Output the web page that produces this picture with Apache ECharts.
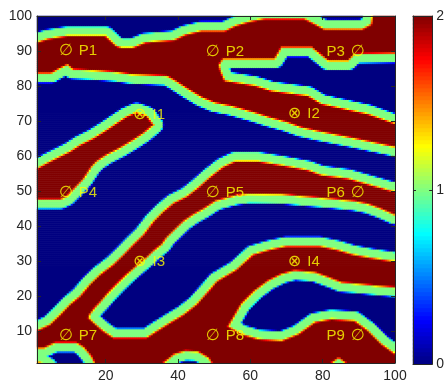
<!DOCTYPE html>
<html>
<head>
<meta charset="utf-8">
<script src="https://cdn.jsdelivr.net/npm/echarts@6.0.0/dist/echarts.min.js"></script>
<style>
html,body{margin:0;padding:0;background:#fff;}
#chart{width:447px;height:383px;}
</style>
</head>
<body>
<div id="chart"></div>
<script>
// ---------------- values ----------------
const xTickValues = [20, 40, 60, 80, 100];
const yTickValues = [10, 20, 30, 40, 50, 60, 70, 80, 90, 100];
const colorTickValues = [0, 1, 2];
const fieldMin = 0, fieldMax = 2;

// Outlines of the regions that are NOT at the top value (2), in axis units [x, y].
// Everything outside these outlines is value 2 (dark red); inside them the value
// falls to 1 (green rim) and then 0 (blue) away from the outline.
const gapTop = [[-10,110],[-10,92.5],[1,92.5],[4,93.5],[9.5,94.4],[20,94.4],[23,91.5],[24.5,91],[27.5,91],[31,92.5],[39,93.2],[42,94.7],[46.5,95.8],[53,95.8],[56,97.3],[60,98.5],[64,99.3],[75,99.3],[78,97.7],[80.5,96.3],[91,96.3],[93.5,97.7],[95.4,110]];
const gapUpperPocket = [[110,89.4],[99.7,89.4],[88.9,89.2],[87.1,87.3],[81.6,87.3],[77,91.1],[68.7,91.1],[66.8,87.8],[52.5,87.8],[51.4,86],[52,84],[53,81.6],[61.3,80.2],[65.9,78.7],[76,77.3],[79.7,75],[92.6,72.1],[99.7,69.5],[110,69.5]];
const gapMiddle = [[-10,83.7],[5,83.7],[7,84.9],[9.5,86.2],[11,84.8],[17,84.5],[23,84],[27,83.4],[37,82.9],[39.2,81.6],[42.8,79.2],[46.5,76.9],[50.2,75.3],[55,74.3],[60.8,72.6],[65,71.2],[70,69.8],[74,68.3],[79.2,67.1],[88.5,65.2],[99.5,62.8],[110,62.5],
  [110,49.9],[100,49.9],[93.5,51.8],[87.1,53.7],[79.7,54.7],[76,56.1],[68.7,57.5],[62.2,58.6],[55.8,58.6],[52.5,57],[49,54.2],[45.5,51],[42.5,48.6],[38.8,46.7],[36,44.3],[33.3,41.5],[30.5,37.7],[27.7,34.9],[25,32],[22.2,29.2],[18.5,26.3],[15.7,23.5],[13,20.2],[10.2,17.8],[7.5,14.9],[4.7,12.1],[1.9,10.7],[1,10.4],[-10,10.4],
  [-10,47.7],[1,47.7],[7.5,47.7],[9.3,48.6],[11.1,50.5],[13.9,53.5],[16.2,57.1],[17.6,58.6],[20.4,60.5],[24,62.4],[27.7,64.7],[30.5,66.6],[33.3,69],[31.4,71.6],[28.6,72.6],[25.9,71.4],[23.1,69.5],[20.4,67.6],[16.7,65.2],[13,63.3],[10.2,61.4],[6.5,59.5],[3.8,58.1],[1,56.5],[-10,56.5]];
const gapPocket = [[15.3,14],[15.7,14.9],[17.1,16.8],[18.5,18.3],[20.4,20.6],[23.1,23.5],[25.9,26.3],[28.6,28.7],[31.4,31.1],[33.3,33],[35.6,34.9],[36.9,36.8],[38.8,38.7],[41.6,41.5],[44.3,43.4],[47.1,45],[50.5,47.3],[55.8,48.8],[59.4,49.3],[68.7,49.2],[72.4,48.8],[77.9,48.3],[83.4,47.8],[88.9,47.2],[92.6,46.4],[96.3,45],[100,43.3],[110,42.5],
  [110,30],[99.5,30.1],[93.1,31.1],[88.5,32],[83.9,33.4],[79.2,34.4],[70,34.4],[65.4,33.4],[60.8,32],[56.2,27.7],[50.8,24.4],[48.9,22.1],[45.2,17.8],[41.6,14.9],[37.9,12.6],[34.2,10.2],[31.4,8.3],[22.2,8.3],[19.4,10.2],[16.7,12.6]];
const gapUnderI4 = [[54,11.5],[57.6,17.9],[61.3,21.7],[65,24.5],[68.7,26.4],[72.3,27.4],[77.9,26.9],[81.6,25.5],[85.3,24],[89.9,23.6],[94.5,23.1],[100,22.6],[110,22.5],
  [110,3.5],[100,3.7],[96.3,6.5],[92.6,10.3],[88.9,13.1],[82.5,13.6],[77.9,12.7],[73.3,9.3],[68.7,7.4],[62.2,7.9],[57.6,9.3]];
const gapBottomLeft = [[-10,1.5],[-10,5],[3,5.3],[6,6.8],[12,6.8],[14,5.5],[16,3],[17.5,0],[18,-10],[5,-10],[4,0],[2,1.2]];
const gapBottomMid = [[34,-10],[36,1],[39,3.5],[42,4.5],[45.5,4.3],[48.5,2.5],[50,0],[51,-10]];
const gapBottomRight = [[81.5,-10],[82.5,1],[84.5,2.5],[86.5,1],[87.5,-10]];
const gaps = [gapTop, gapUpperPocket, gapMiddle, gapPocket, gapUnderI4, gapBottomLeft, gapBottomMid, gapBottomRight];

// Text markers
const markerNames = ['P1','P2','P3','P4','P5','P6','P7','P8','P9','I1','I2','I3','I4'];
const markerX = [9, 49.6, 89.7, 9, 49.6, 89.7, 9, 49.6, 89.7, 29.5, 72.3, 29.5, 72.3];
const markerY = [90, 89.8, 89.8, 49.6, 49.6, 49.5, 8.7, 8.8, 8.7, 71.8, 72, 29.9, 29.8];
const markerSide = ['r','r','l','r','r','l','r','r','l','r','r','r','r'];

// jet colour map
const jet = ['#000080','#0000ff','#0080ff','#00ffff','#80ff80','#ffff00','#ff8000','#ff0000','#800000'];

// ---------------- raster of the field ----------------
const NX = 179, NY = 174;           // raster cells across the plot
const xMin = 1, xMax = 100, yMin = 1, yMax = 100;
function segDist(px, py, ax, ay, bx, by) {
  const dx = bx - ax, dy = by - ay;
  const l2 = dx * dx + dy * dy;
  let t = l2 ? ((px - ax) * dx + (py - ay) * dy) / l2 : 0;
  t = Math.max(0, Math.min(1, t));
  const qx = ax + t * dx - px, qy = ay + t * dy - py;
  return Math.sqrt(qx * qx + qy * qy);
}
function inside(px, py, poly) {
  let c = false;
  for (let i = 0, j = poly.length - 1; i < poly.length; j = i++) {
    const xi = poly[i][0], yi = poly[i][1], xj = poly[j][0], yj = poly[j][1];
    if (((yi > py) !== (yj > py)) && (px < (xj - xi) * (py - yi) / (yj - yi) + xi)) c = !c;
  }
  return c;
}
function levelAt(x, y) {
  let d = Infinity, inGap = false;
  for (const poly of gaps) {
    if (inside(x, y, poly)) inGap = true;
    for (let i = 0, j = poly.length - 1; i < poly.length; j = i++) {
      const s = segDist(x, y, poly[j][0], poly[j][1], poly[i][0], poly[i][1]);
      if (s < d) d = s;
    }
  }
  const e = inGap ? d : -d;
  if (e <= -0.35) return 2;
  if (e < 0.35) return 1.5 - e / 0.7;
  if (e < 2.4) return 1;
  if (e < 2.9) return 1 - (e - 2.4) / 0.5;
  return 0;
}
const catX = [], catY = [], cells = [];
for (let i = 0; i < NX; i++) catX.push(String(i));
for (let j = 0; j < NY; j++) catY.push(String(j));
for (let i = 0; i < NX; i++) {
  const x = xMin + (i + 0.5) * (xMax - xMin) / NX;
  for (let j = 0; j < NY; j++) {
    const y = yMin + (j + 0.5) * (yMax - yMin) / NY;
    cells.push([i, j, levelAt(x, y)]);
  }
}
// colour bar
const NB = 87;
const barCat = [], barCells = [];
for (let k = 0; k < NB; k++) { barCat.push(String(k)); barCells.push([0, k, fieldMin + (k + 0.5) * (fieldMax - fieldMin) / NB]); }

// ---------------- chart ----------------
const axisCol = '#262626';
const font = "'Liberation Sans', Arial, sans-serif";
const chart = echarts.init(document.getElementById('chart'), null, { renderer: 'canvas' });
const markerData = markerNames.map((n, k) => {
  const g = n[0] === 'P' ? '∅' : '⊗';
  const left = markerSide[k] === 'l';
  return {
    value: [markerX[k], markerY[k]],
    label: {
      formatter: left ? `{tl|${n}}{g|${g}}` : `{g|${g}}{tr|${n}}`,
      align: left ? 'right' : 'left',
      offset: left ? [7, 0] : [-7, 0]
    }
  };
});
const lbl = { color: '#ffff00', fontFamily: font, fontSize: 15 };
chart.setOption({
  animation: false,
  grid: [
    { left: 37, top: 16, width: 358, height: 348, containLabel: false },
    { left: 413, top: 16, width: 21, height: 348, containLabel: false }
  ],
  xAxis: [
    { type: 'category', gridIndex: 0, data: catX, show: false },
    { type: 'value', gridIndex: 0, position: 'bottom', min: xMin, max: xMax, z: 10,
      axisLine: { show: true, onZero: false, lineStyle: { color: axisCol, width: 1 } },
      axisTick: { show: true, inside: true, length: 4, customValues: xTickValues, lineStyle: { color: axisCol } },
      axisLabel: { show: true, customValues: xTickValues, color: axisCol, fontSize: 14, fontFamily: font, margin: 6 },
      splitLine: { show: false } },
    { type: 'value', gridIndex: 0, position: 'top', min: xMin, max: xMax, z: 10,
      axisLine: { show: true, onZero: false, lineStyle: { color: axisCol, width: 1 } },
      axisTick: { show: true, inside: true, length: 4, customValues: xTickValues, lineStyle: { color: axisCol } },
      axisLabel: { show: false }, splitLine: { show: false } },
    { type: 'category', gridIndex: 1, data: ['0'], show: false },
    { type: 'value', gridIndex: 1, position: 'bottom', min: 0, max: 1, z: 10,
      axisLine: { show: true, onZero: false, lineStyle: { color: axisCol } },
      axisTick: { show: false }, axisLabel: { show: false }, splitLine: { show: false } },
    { type: 'value', gridIndex: 1, position: 'top', min: 0, max: 1, z: 10,
      axisLine: { show: true, onZero: false, lineStyle: { color: axisCol } },
      axisTick: { show: false }, axisLabel: { show: false }, splitLine: { show: false } }
  ],
  yAxis: [
    { type: 'category', gridIndex: 0, data: catY, show: false },
    { type: 'value', gridIndex: 0, position: 'left', min: yMin, max: yMax, z: 10,
      axisLine: { show: true, onZero: false, lineStyle: { color: axisCol, width: 1 } },
      axisTick: { show: true, inside: true, length: 4, customValues: yTickValues, lineStyle: { color: axisCol } },
      axisLabel: { show: true, customValues: yTickValues, color: axisCol, fontSize: 14, fontFamily: font, margin: 5 },
      splitLine: { show: false } },
    { type: 'value', gridIndex: 0, position: 'right', min: yMin, max: yMax, z: 10,
      axisLine: { show: true, onZero: false, lineStyle: { color: axisCol, width: 1 } },
      axisTick: { show: true, inside: true, length: 4, customValues: yTickValues, lineStyle: { color: axisCol } },
      axisLabel: { show: false }, splitLine: { show: false } },
    { type: 'category', gridIndex: 1, data: barCat, show: false },
    { type: 'value', gridIndex: 1, position: 'right', min: fieldMin, max: fieldMax, z: 10,
      axisLine: { show: true, onZero: false, lineStyle: { color: axisCol } },
      axisTick: { show: true, inside: true, length: 3, customValues: colorTickValues, lineStyle: { color: axisCol } },
      axisLabel: { show: true, customValues: colorTickValues, color: axisCol, fontSize: 14, fontFamily: font, margin: 4 },
      splitLine: { show: false } },
    { type: 'value', gridIndex: 1, position: 'left', min: fieldMin, max: fieldMax, z: 10,
      axisLine: { show: true, onZero: false, lineStyle: { color: axisCol } },
      axisTick: { show: true, inside: true, length: 3, customValues: colorTickValues, lineStyle: { color: axisCol } },
      axisLabel: { show: false }, splitLine: { show: false } }
  ],
  visualMap: {
    type: 'continuous', show: false, min: fieldMin, max: fieldMax, dimension: 2,
    seriesIndex: [0, 1], inRange: { color: jet }
  },
  series: [
    { type: 'heatmap', xAxisIndex: 0, yAxisIndex: 0, data: cells, progressive: 0,
      emphasis: { disabled: true }, silent: true },
    { type: 'heatmap', xAxisIndex: 3, yAxisIndex: 3, data: barCells, progressive: 0,
      emphasis: { disabled: true }, silent: true },
    { type: 'scatter', xAxisIndex: 1, yAxisIndex: 1, data: markerData, symbolSize: 1,
      itemStyle: { color: 'rgba(0,0,0,0)' }, silent: true, z: 5,
      label: {
        show: true, position: [0.5, 0.5], verticalAlign: 'middle',
        rich: {
          g: { color: '#ffff00', fontFamily: "'DejaVu Sans', sans-serif", fontSize: 16 },
          tr: Object.assign({ padding: [0, 0, 0, 6] }, lbl),
          tl: Object.assign({ padding: [0, 6, 0, 0] }, lbl)
        }
      } }
  ]
});
</script>
</body>
</html>
